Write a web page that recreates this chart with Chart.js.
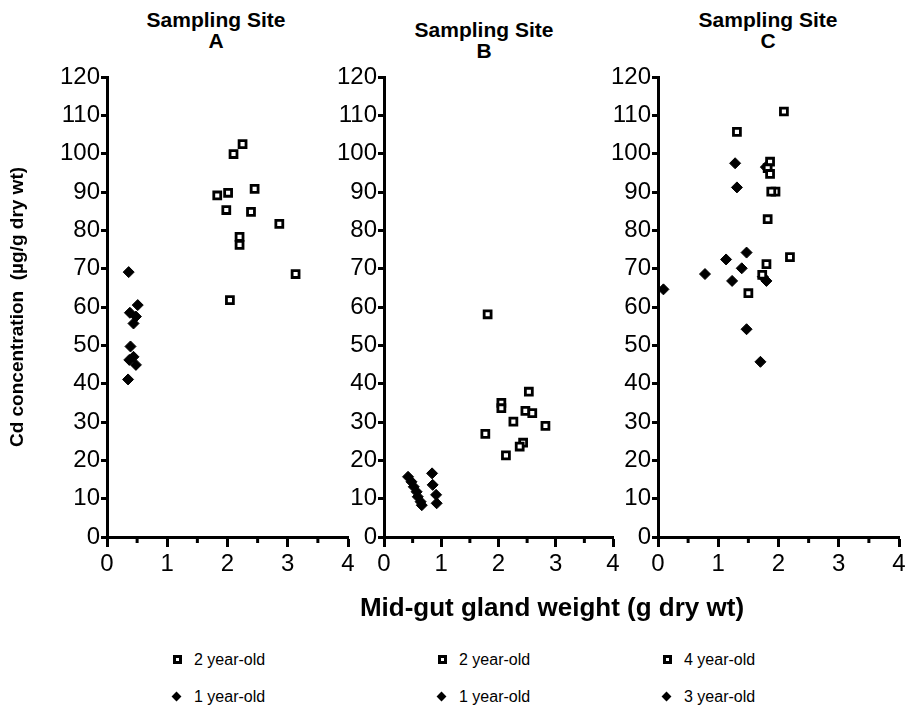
<!DOCTYPE html>
<html>
<head>
<meta charset="utf-8">
<script src="https://cdn.jsdelivr.net/npm/chart.js@4.4.0/dist/chart.umd.min.js"></script>
<style>
  body { margin: 0; background: #fff; font-family: "Liberation Sans", Arial, Helvetica, sans-serif; }
  #wrap { position: relative; width: 911px; height: 710px; overflow: hidden; }
  .panel { position: absolute; }
  .title { position: absolute; width: 200px; margin-left: -100px; text-align: center;
           font-weight: bold; font-size: 21px; line-height: 21px; color: #000; }
  #xtitle { position: absolute; left: 252px; width: 600px; top: 594px; text-align: center;
            font-weight: bold; font-size: 26px; line-height: 26px; color: #000; }
  .leg { position: absolute; font-size: 16px; color: #000; }
  .leg div { position: absolute; white-space: nowrap; height: 18px; line-height: 18px; }
  .sq { position: absolute; width: 3px; height: 3px; border: 3px solid #000; top: 4px; }
  .dm { position: absolute; width: 7px; height: 7px; background: #000; transform: rotate(45deg); top: 5px; }
</style>
</head>
<body>
<div id="wrap">
  <div class="title" style="left:216px;top:9px">Sampling Site<br>A</div>
  <div class="title" style="left:484px;top:19px">Sampling Site<br>B</div>
  <div class="title" style="left:768px;top:9px">Sampling Site<br>C</div>

  <div class="panel" style="left:0px;top:60px"><canvas id="cA" width="360" height="540"></canvas></div>
  <div class="panel" style="left:260px;top:60px"><canvas id="cB" width="365" height="540"></canvas></div>
  <div class="panel" style="left:530px;top:60px"><canvas id="cC" width="381" height="540"></canvas></div>

  <div id="xtitle">Mid-gut gland weight (g dry wt)</div>
  <div class="leg" id="legA" style="left:172px;top:651px"></div>
  <div class="leg" id="legB" style="left:437px;top:651px"></div>
  <div class="leg" id="legC" style="left:662px;top:651px"></div>
</div>
<script>
// Site A
const aTwoYearX = [2.25, 2.10, 2.45, 1.83, 2.01, 1.98, 2.39, 2.86, 2.20, 2.20, 3.13, 2.04];
const aTwoYearY = [102.5, 99.9, 90.8, 89.1, 89.8, 85.3, 84.8, 81.7, 78.3, 76.2, 68.6, 61.8];
const aOneYearX = [0.36, 0.51, 0.38, 0.48, 0.44, 0.39, 0.37, 0.44, 0.48, 0.35];
const aOneYearY = [69.1, 60.5, 58.5, 57.5, 55.7, 49.7, 46.2, 47.0, 44.9, 41.1];

// Site B
const bTwoYearX = [1.81, 2.53, 2.05, 2.05, 2.47, 2.59, 2.26, 2.82, 1.77, 2.43, 2.37, 2.13];
const bTwoYearY = [58.1, 37.9, 35.0, 33.6, 32.9, 32.3, 30.1, 29.0, 26.9, 24.6, 23.6, 21.3];
const bOneYearX = [0.42, 0.48, 0.52, 0.57, 0.59, 0.64, 0.66, 0.84, 0.85, 0.91, 0.92];
const bOneYearY = [15.7, 14.4, 13.1, 11.8, 10.5, 9.2, 8.3, 16.6, 13.6, 11.0, 8.8];

// Site C
const cFourYearX = [2.09, 1.31, 1.86, 1.82, 1.86, 1.95, 1.88, 1.82, 2.19, 1.80, 1.73, 1.50];
const cFourYearY = [111.0, 105.7, 97.9, 96.2, 94.7, 90.1, 90.1, 82.9, 73.0, 71.2, 68.4, 63.6];
const cThreeYearX = [0.09, 0.78, 1.28, 1.31, 1.13, 1.47, 1.39, 1.23, 1.47, 1.70, 1.80, 1.74, 1.79];
const cThreeYearY = [64.6, 68.6, 97.5, 91.2, 72.4, 74.2, 70.1, 66.8, 54.2, 45.7, 66.8, 67.9, 96.5];

const xTicks = [0, 1, 2, 3, 4];
const xMinorTicks = [0.5, 1.5, 2.5, 3.5];
const yTicks = [0, 10, 20, 30, 40, 50, 60, 70, 80, 90, 100, 110, 120];

const FONT = '"Liberation Sans", Arial, Helvetica, sans-serif';

function toPoints(xs, ys) {
  return xs.map((x, i) => ({ x: x, y: ys[i] }));
}

// short half-step ticks under the x axis
const minorTicks = {
  id: 'minorTicks',
  afterDraw(chart) {
    const ctx = chart.ctx;
    const sx = chart.scales.x;
    const bottom = chart.chartArea.bottom;
    ctx.save();
    ctx.strokeStyle = '#000';
    ctx.lineWidth = 3;
    xMinorTicks.forEach(v => {
      const px = sx.getPixelForValue(v);
      ctx.beginPath();
      ctx.moveTo(px, bottom);
      ctx.lineTo(px, bottom + 6);
      ctx.stroke();
    });
    ctx.restore();
  }
};

function makeChart(id, yWidth, series, yTitle) {
  const datasets = series.map(s => ({
    label: s.label,
    data: toPoints(s.x, s.y),
    pointStyle: s.filled ? 'rectRot' : 'rect',
    pointRadius: s.filled ? 5.5 : 4.9,
    pointBackgroundColor: s.filled ? '#000' : '#fff',
    pointBorderColor: '#000',
    pointBorderWidth: s.filled ? 1 : 2.8,
    showLine: false
  }));
  return new Chart(document.getElementById(id), {
    type: 'scatter',
    data: { datasets: datasets },
    plugins: [minorTicks],
    options: {
      responsive: false,
      animation: false,
      layout: { padding: { top: 17, right: 12, left: 0, bottom: 0 } },
      plugins: { legend: { display: false }, tooltip: { enabled: false } },
      scales: {
        x: {
          type: 'linear', min: 0, max: 4,
          afterBuildTicks: sc => { sc.ticks = xTicks.map(v => ({ value: v })); },
          afterFit: sc => { sc.height = 63; },
          border: { display: true, color: '#000', width: 3 },
          grid: { drawOnChartArea: false, drawTicks: true, tickLength: 10, tickWidth: 3, tickColor: '#000' },
          ticks: { color: '#000', padding: 3, font: { family: FONT, size: 24 } }
        },
        y: {
          type: 'linear', min: 0, max: 120,
          afterBuildTicks: sc => { sc.ticks = yTicks.map(v => ({ value: v })); },
          afterFit: sc => { sc.width = yWidth; },
          border: { display: true, color: '#000', width: 3 },
          grid: { drawOnChartArea: false, drawTicks: true, tickLength: 6, tickWidth: 3, tickColor: '#000' },
          ticks: { color: '#000', padding: 1, font: { family: FONT, size: 24 } },
          title: {
            display: !!yTitle, text: yTitle || '', color: '#000',
            font: { family: FONT, size: 19, weight: 'bold' },
            padding: { top: 6, bottom: 0 }
          }
        }
      }
    }
  });
}

function makeLegend(id, chart) {
  const box = document.getElementById(id);
  chart.data.datasets.forEach((ds, i) => {
    const row = document.createElement('div');
    row.style.top = (i * 37) + 'px';
    const mark = document.createElement('span');
    mark.className = ds.pointStyle === 'rect' ? 'sq' : 'dm';
    mark.style.left = '1px';
    const txt = document.createElement('span');
    txt.style.marginLeft = '22px';
    txt.textContent = ds.label;
    row.appendChild(mark);
    row.appendChild(txt);
    box.appendChild(row);
  });
}

const chartA = makeChart('cA', 107, [
  { label: '2 year-old', x: aTwoYearX, y: aTwoYearY, filled: false },
  { label: '1 year-old', x: aOneYearX, y: aOneYearY, filled: true }
], 'Cd concentration  (µg/g dry wt)');

const chartB = makeChart('cB', 124, [
  { label: '2 year-old', x: bTwoYearX, y: bTwoYearY, filled: false },
  { label: '1 year-old', x: bOneYearX, y: bOneYearY, filled: true }
]);

const chartC = makeChart('cC', 128, [
  { label: '4 year-old', x: cFourYearX, y: cFourYearY, filled: false },
  { label: '3 year-old', x: cThreeYearX, y: cThreeYearY, filled: true }
]);

makeLegend('legA', chartA);
makeLegend('legB', chartB);
makeLegend('legC', chartC);
</script>
</body>
</html>
